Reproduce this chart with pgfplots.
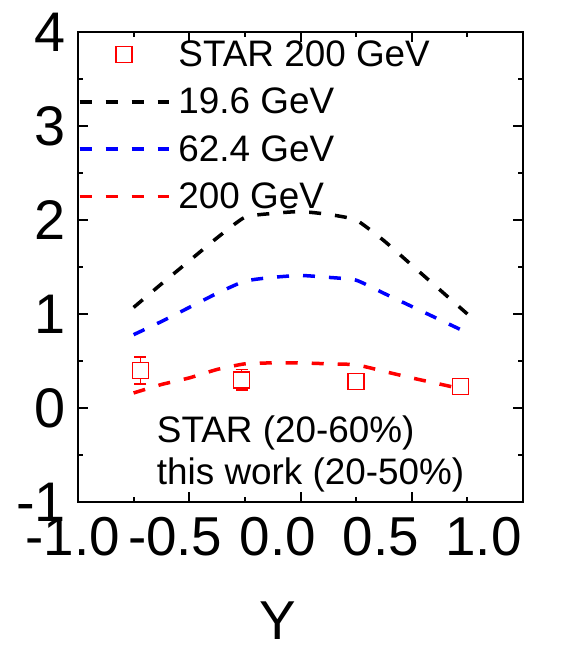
\documentclass[border=0pt]{standalone}
\usepackage{fontspec}
\setmainfont{Liberation Sans}
\usepackage{pgfplots}
\usepackage{pgfplotstable}
\pgfplotsset{compat=1.18}

% STAR 200 GeV measurements (20-60%)
\pgfplotstableread{
x      y     err
-0.72  0.40  0.145
-0.265 0.30  0.11
 0.25  0.28  0.07
 0.72  0.23  0.07
}\tblstar

% model curves (20-50%)
\pgfplotstableread{
x       a      b      c
-0.75   1.07   0.78   0.16
-0.625  1.32   0.92   0.25
-0.5    1.565  1.07   0.32
-0.375  1.81   1.22   0.41
-0.25   2.03   1.35   0.47
-0.125  2.07   1.39   0.48
 0      2.09   1.41   0.48
 0.125  2.06   1.39   0.47
 0.25   2.00   1.36   0.46
 0.375  1.78   1.22   0.39
 0.5    1.52   1.08   0.32
 0.625  1.26   0.94   0.255
 0.75   1.00   0.80   0.19
}\tblmodel

\begin{document}
\begin{tikzpicture}
\begin{axis}[
  at={(0,0)}, anchor=south west,
  scale only axis, width=445bp, height=470bp,
  xmin=-1, xmax=1, ymin=-1, ymax=4,
  axis line style={line width=2.5bp},
  tick style={line width=2bp, black},
  tick align=inside, tick pos=both,
  major tick length=10bp, minor tick length=5bp,
  xtick={-1,-0.5,0,0.5,1}, minor x tick num=1,
  xticklabels={},
  ytick={-1,0,1,2,3,4}, minor y tick num=1,
  yticklabels={-1,0,1,2,3,4},
  yticklabel style={font=\fontsize{56}{60}\selectfont, inner sep=0pt, anchor=east, xshift=-12bp},
  clip=false,
  legend style={at={(0,1)}, anchor=north west, yshift=-9bp, draw=none, fill=none,
    inner sep=0pt, outer sep=0pt, row sep=20bp, column sep=8bp,
    font=\fontsize{37}{37}\selectfont, nodes={inner sep=0pt}},
  legend cell align=left,
  legend image code/.code={\draw[#1] (0bp,0bp) -- (89bp,0bp);},
  dashline/.style={line width=3.5bp, dash pattern=on 12bp off 14bp, smooth, tension=0.3},
]
\addplot[only marks, red, mark=square*, mark size=8bp, line width=1.5bp,
  mark options={fill=white, draw=red},
  legend image code/.code={\path (0bp,0bp) (89bp,0bp);
    \draw[mark repeat=2, mark phase=2, ##1] plot coordinates {(0bp,0bp) (44.5bp,0bp) (89bp,0bp)};},
  error bars/.cd, y dir=both, y explicit,
  error bar style={line width=1.5bp, red},
  error mark options={rotate=90, line width=1.5bp, mark size=6bp, red}]
  table[x=x, y=y, y error=err] {\tblstar};
\addlegendentry{STAR 200 GeV}
\addplot[dashline, black] table[x=x, y=a] {\tblmodel};
\addlegendentry{19.6 GeV}
\addplot[dashline, blue] table[x=x, y=b] {\tblmodel};
\addlegendentry{62.4 GeV}
\addplot[dashline, red] table[x=x, y=c] {\tblmodel};
\addlegendentry{200 GeV}
\node[anchor=base west, inner sep=0pt, font=\fontsize{37}{37}\selectfont] at (axis cs:-0.646,-0.362) {STAR (20-60\%)};
\node[anchor=base west, inner sep=0pt, font=\fontsize{37}{37}\selectfont] at (axis cs:-0.646,-0.819) {this work (20-50\%)};
\end{axis}
% rapidity tick labels and title
\begin{axis}[
  at={(-46.6bp,0)}, anchor=south west,
  scale only axis, width=493.2bp, height=470bp,
  xmin=-1.2, xmax=1.2, ymin=0, ymax=1,
  axis line style={draw=none}, tick style={draw=none},
  ytick=\empty, xtick={-1,-0.5,0,0.5,1},
  xticklabels={-1.0,-0.5,0.0,0.5,1.0},
  xticklabel style={font=\fontsize{55}{60}\selectfont, inner sep=0pt, anchor=north, yshift=-15bp},
  xlabel={Y},
  xlabel style={font=\fontsize{55}{60}\selectfont, inner sep=0pt,
    at={(axis description cs:0.5,0)}, anchor=north, yshift=-100bp},
]
\end{axis}
\pgfresetboundingbox
\path[use as bounding box] (-78bp,-145bp) rectangle (488bp,502bp);
\end{tikzpicture}
\end{document}
